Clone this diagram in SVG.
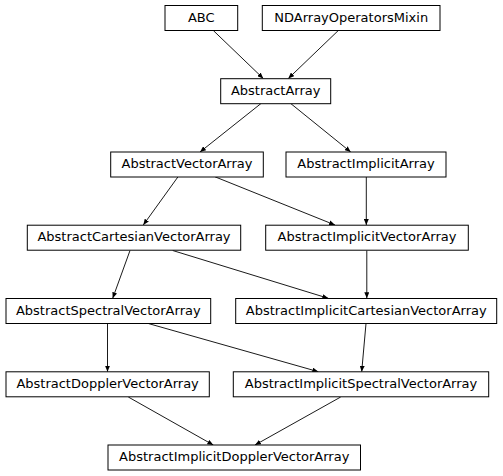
<svg xmlns="http://www.w3.org/2000/svg" width="503" height="476" viewBox="0 0 503 476">
<style>
.n rect{fill:#fff;stroke:#000;stroke-width:1}
.n text{font-family:"DejaVu Sans",sans-serif;font-size:13px;fill:#000;text-anchor:middle}
#edges path{fill:none;stroke:#000;stroke-width:0.9;marker-end:url(#ah)}
</style>
<defs>
<marker id="ah" markerUnits="userSpaceOnUse" markerWidth="6" markerHeight="5" refX="6" refY="2.5" orient="auto">
<path d="M0,0 L6,2.5 L0,5 z" fill="#000"/>
</marker>
</defs>
<rect width="503" height="476" fill="#fff"/>
<g id="edges">
<path d="M213.3,30.5 L263.3,78.5"/>
<path d="M338.3,30.5 L288.3,78.5"/>
<path d="M261,103.5 L200,152"/>
<path d="M290.7,103.5 L350.7,152"/>
<path d="M178,176.8 L143.3,225"/>
<path d="M215,176.8 L335,225"/>
<path d="M366.3,176.8 L366.3,225"/>
<path d="M130,250.5 L112.7,298.3"/>
<path d="M172.7,250.5 L328.3,298.3"/>
<path d="M366.8,250.5 L366.8,298.3"/>
<path d="M107.5,323.5 L107.5,371.7"/>
<path d="M148.3,323.5 L318.3,371.7"/>
<path d="M366,323.5 L361.7,371.7"/>
<path d="M128.3,397 L213.3,445"/>
<path d="M340.7,397 L255,445"/>
</g>
<g id="ABC" class="n"><rect x="165" y="5.5" width="72.7" height="25"/><text x="201.3" y="21.6">ABC</text></g>
<g id="NDArrayOperatorsMixin" class="n"><rect x="262.3" y="5.5" width="177.7" height="25"/><text x="351.2" y="21.6">NDArrayOperatorsMixin</text></g>
<g id="AbstractArray" class="n"><rect x="220.7" y="78.7" width="110" height="25"/><text x="275.7" y="94.8">AbstractArray</text></g>
<g id="AbstractVectorArray" class="n"><rect x="110.7" y="152" width="152.6" height="25"/><text x="187" y="168.1">AbstractVectorArray</text></g>
<g id="AbstractImplicitArray" class="n"><rect x="286" y="152" width="160" height="25"/><text x="366" y="168.1">AbstractImplicitArray</text></g>
<g id="AbstractCartesianVectorArray" class="n"><rect x="27.3" y="225.2" width="213.4" height="25"/><text x="134" y="241.3">AbstractCartesianVectorArray</text></g>
<g id="AbstractImplicitVectorArray" class="n"><rect x="265.7" y="225.2" width="202.6" height="25"/><text x="367" y="241.3">AbstractImplicitVectorArray</text></g>
<g id="AbstractSpectralVectorArray" class="n"><rect x="6" y="298.5" width="204.7" height="25"/><text x="108.3" y="314.6">AbstractSpectralVectorArray</text></g>
<g id="AbstractImplicitCartesianVectorArray" class="n"><rect x="235.7" y="298.5" width="261" height="25"/><text x="366.2" y="314.6">AbstractImplicitCartesianVectorArray</text></g>
<g id="AbstractDopplerVectorArray" class="n"><rect x="6" y="371.8" width="203.3" height="25"/><text x="107.6" y="387.9">AbstractDopplerVectorArray</text></g>
<g id="AbstractImplicitSpectralVectorArray" class="n"><rect x="233.3" y="371.8" width="255.4" height="25"/><text x="361" y="387.9">AbstractImplicitSpectralVectorArray</text></g>
<g id="AbstractImplicitDopplerVectorArray" class="n"><rect x="108" y="445" width="252.5" height="25"/><text x="234.2" y="461.1">AbstractImplicitDopplerVectorArray</text></g>
</svg>
